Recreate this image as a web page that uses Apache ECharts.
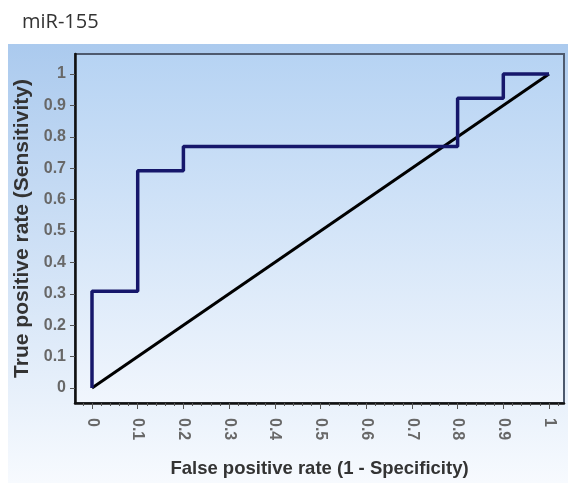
<!DOCTYPE html>
<html>
<head>
<meta charset="utf-8">
<style>
html,body{margin:0;padding:0;background:#fff;}
#chart{width:568px;height:483px;}
</style>
<script src="https://cdn.jsdelivr.net/npm/echarts@6/dist/echarts.min.js"></script>
</head>
<body>
<div id="chart"></div>
<script>
// ROC curve points (false positive rate, true positive rate)
const fpr = [0, 0, 0.1, 0.1, 0.2, 0.2, 0.8, 0.8, 0.9, 0.9, 1];
const tpr = [0, 0.308, 0.308, 0.692, 0.692, 0.769, 0.769, 0.923, 0.923, 1, 1];
// reference diagonal
const diagX = [0, 1];
const diagY = [0, 1];
// tick labels
const xTicks = [0, 0.1, 0.2, 0.3, 0.4, 0.5, 0.6, 0.7, 0.8, 0.9, 1];
const yTicks = [0, 0.1, 0.2, 0.3, 0.4, 0.5, 0.6, 0.7, 0.8, 0.9, 1];
const titleText = 'miR-155';
const xName = 'False positive rate (1 - Specificity)';
const yName = 'True positive rate (Sensitivity)';

const xMinor = [];
for (let i = -1; i <= 51; i++) { if (i % 5 !== 0) xMinor.push(+(i * 0.02).toFixed(2)); }

const chart = echarts.init(document.getElementById('chart'), null, {renderer: 'canvas'});
const labelFont = {color: '#686868', fontWeight: 'bold', fontSize: 16, fontFamily: 'Liberation Sans, Arial, sans-serif'};
const xMin = -0.0372, xMax = 1.0328, yMin = -0.0478, yMax = 1.0637;

chart.setOption({
  animation: false,
  backgroundColor: '#ffffff',
  graphic: [
    {type: 'rect', z: -10, silent: true, shape: {x: 8, y: 44, width: 560, height: 439},
     style: {fill: new echarts.graphic.LinearGradient(0, 0, 0, 1, [
       {offset: 0, color: '#abcaee'}, {offset: 1, color: '#f7fafe'}])}},
    {type: 'text', left: 22, top: 12, style: {text: titleText, fontSize: 20, fill: '#333',
      fontFamily: 'Open Sans, Liberation Sans, sans-serif'}}
  ],
  grid: {left: 75, right: 4, top: 54, bottom: 80, show: true, borderColor: '#4e5a6e', borderWidth: 2,
    backgroundColor: new echarts.graphic.LinearGradient(0, 0, 0, 1, [
      {offset: 0, color: '#b6d3f3'}, {offset: 1, color: '#f1f6fd'}])},
  xAxis: [{
    type: 'value', min: xMin, max: xMax, position: 'bottom',
    name: xName, nameLocation: 'middle', nameGap: 56,
    nameTextStyle: {color: '#333', fontWeight: 'bold', fontSize: 18.5, fontFamily: 'Liberation Sans, Arial, sans-serif'},
    axisLine: {show: true, onZero: false, lineStyle: {color: '#111', width: 2.5}},
    axisTick: {show: true, length: 6, customValues: xTicks, lineStyle: {color: '#555', width: 1}},
    axisLabel: Object.assign({customValues: xTicks, rotate: -90, margin: 15,
      formatter: v => String(+v.toFixed(1))}, labelFont),
    splitLine: {show: false}
  }, {
    type: 'value', min: xMin, max: xMax, position: 'bottom',
    axisLine: {show: false, onZero: false},
    axisTick: {show: true, length: 3, customValues: xMinor, lineStyle: {color: '#555', width: 1}},
    axisLabel: {show: false},
    splitLine: {show: false}
  }],
  yAxis: {
    type: 'value', min: yMin, max: yMax,
    name: yName, nameLocation: 'middle', nameGap: 38,
    nameTextStyle: {color: '#333', fontWeight: 'bold', fontSize: 21, fontFamily: 'Liberation Sans, Arial, sans-serif'},
    axisLine: {show: true, onZero: false, lineStyle: {color: '#111', width: 2.5}},
    axisTick: {show: true, length: 5, customValues: yTicks, lineStyle: {color: '#555', width: 1}},
    axisLabel: Object.assign({customValues: yTicks, margin: 9,
      formatter: v => String(+v.toFixed(1))}, labelFont),
    splitLine: {show: false}
  },
  series: [{
    type: 'line', xAxisIndex: 0, data: diagX.map((x, i) => [x, diagY[i]]),
    symbol: 'none', lineStyle: {color: '#000', width: 3}
  }, {
    type: 'line', xAxisIndex: 0, data: fpr.map((x, i) => [x, tpr[i]]),
    symbol: 'none', lineStyle: {color: '#16176b', width: 3.5}
  }]
});
</script>
</body>
</html>
